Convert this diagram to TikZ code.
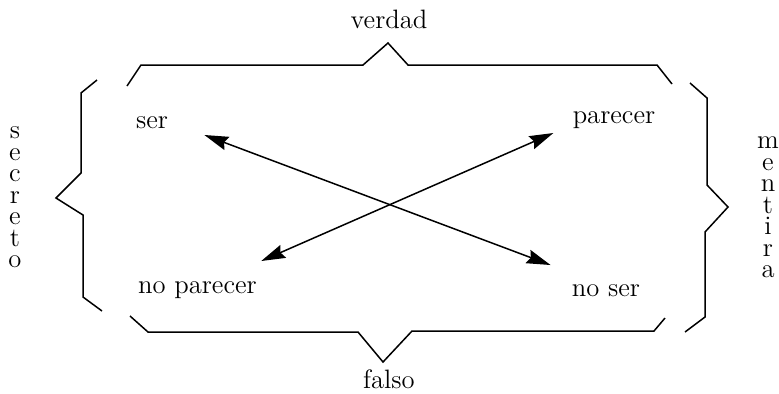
\documentclass[tikz,border=0pt]{standalone}
\usepackage{tikz}
\usetikzlibrary{arrows.meta, positioning}

\tikzset{
  lbl/.style={font=\fontsize{13.3}{16}\selectfont, inner sep=0pt, anchor=base},
  vlbl/.style={font=\fontsize{13.3}{10.75}\selectfont, inner sep=0pt, align=center},
  brace/.style={line width=0.75pt, line join=miter},
  arr/.style={<->, line width=0.75pt}
}

\begin{document}
\begin{tikzpicture}[x=0.5pt, y=-0.5pt, >={Stealth[length=12pt, width=7pt, inset=1.5pt]}]
  \useasboundingbox (0,0) rectangle (779,393);
  \draw[brace] (127,86) -- (141,65) -- (363,65) -- (388,43) -- (408,65) -- (657,65) -- (672,84);
  \draw[brace] (97,80) -- (81,93) -- (81,173) -- (56,198) -- (83,215) -- (83,297) -- (102,311);
  \draw[brace] (130,316) -- (148,332) -- (358,332) -- (383,362) -- (412,331) -- (654,331) -- (665,318);
  \draw[brace] (690,83) -- (707,98) -- (707,185) -- (728,207) -- (705,232) -- (705,317) -- (685,332);
  \node[lbl] (verdad) at (389,28) {verdad};
  \node[lbl] (falso) at (389,388) {falso};
  \node[vlbl] (secreto) at (15,197.5) {s\\e\\c\\r\\e\\t\\o};
  \node[vlbl] (mentira) at (768,207.5) {m\\e\\n\\t\\i\\r\\a};
  \node[lbl] (ser) at (152,128) {ser};
  \node[lbl] (parecer) at (614,123) {parecer};
  \node[lbl] (noparecer) at (197.5,293) {no parecer};
  \node[lbl] (noser) at (606,296) {no ser};
  \draw[arr] ([shift={(36,7)}]ser.base east) -- ([shift={(-21,-31)}]noser.base west);
  \draw[arr] ([shift={(-19,10)}]parecer.base west) -- ([shift={(4,-32)}]noparecer.base east);
\end{tikzpicture}
\end{document}
